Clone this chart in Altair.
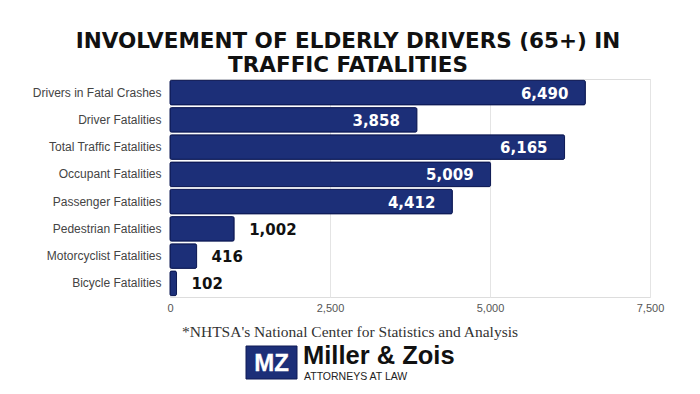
import altair as alt
import pandas as pd

categories = [
    "Drivers in Fatal Crashes",
    "Driver Fatalities",
    "Total Traffic Fatalities",
    "Occupant Fatalities",
    "Passenger Fatalities",
    "Pedestrian Fatalities",
    "Motorcyclist Fatalities",
    "Bicycle Fatalities",
]
values = [6490, 3858, 6165, 5009, 4412, 1002, 416, 102]
x_ticks = [0, 2500, 5000, 7500]
title_lines = ["INVOLVEMENT OF ELDERLY DRIVERS (65+) IN", "TRAFFIC FATALITIES"]
footnote = "*NHTSA's National Center for Statistics and Analysis"

df = pd.DataFrame({"category": categories, "value": values})
df["label"] = df["value"].map(lambda v: f"{v:,}")

NAVY = "#1c2f78"

y_enc = alt.Y(
    "category:N",
    sort=categories,
    title=None,
    scale=alt.Scale(paddingInner=0.1, paddingOuter=0.05),
    axis=alt.Axis(
        labelFont="Liberation Sans",
        labelFontSize=12,
        labelColor="#444444",
        labelPadding=9,
        ticks=False,
        domain=False,
        grid=False,
        labelLimit=200,
    ),
)
x_enc = alt.X(
    "value:Q",
    title=None,
    scale=alt.Scale(domain=[0, 7500], nice=False),
    axis=alt.Axis(
        values=x_ticks,
        format=",.0f",
        labelFlush=False,
        labelFont="Liberation Sans",
        labelFontSize=11,
        labelColor="#555555",
        labelPadding=5,
        ticks=False,
        domain=False,
        gridColor="#e4e4e4",
        gridWidth=1,
    ),
)

base = alt.Chart(df)

bars = base.mark_bar(
    color=NAVY, stroke="#0e1a55", strokeWidth=1, cornerRadius=1.5
).encode(x=x_enc, y=y_enc)

inside = base.transform_filter("datum.value >= 2000").mark_text(
    align="right", baseline="middle", dx=-17, dy=1, color="white",
    font="DejaVu Sans", fontWeight="bold", fontSize=15,
).encode(x="value:Q", y=alt.Y("category:N", sort=categories), text="label:N")

outside = base.transform_filter("datum.value < 2000").mark_text(
    align="left", baseline="middle", dx=15, dy=1, color="#111111",
    font="DejaVu Sans", fontWeight="bold", fontSize=15,
).encode(x="value:Q", y=alt.Y("category:N", sort=categories), text="label:N")

one = pd.DataFrame({"t": [footnote]})

foot = alt.Chart(one).mark_text(
    align="center", baseline="middle", font="Liberation Serif", fontSize=15.5,
    color="#333333",
).encode(x=alt.value(180), y=alt.value(253), text="t:N")

logo_box = alt.Chart(one).mark_rect(color=NAVY, stroke="#0e1a55").encode(
    x=alt.value(76), x2=alt.value(127), y=alt.value(267), y2=alt.value(300)
)
logo_mz = alt.Chart(pd.DataFrame({"t": ["MZ"]})).mark_text(
    align="center", baseline="middle", font="Liberation Sans", fontWeight="bold",
    fontSize=24, color="white", stroke="#ffffff", strokeWidth=0.3,
).encode(x=alt.value(101.5), y=alt.value(285), text="t:N")
logo_name = alt.Chart(pd.DataFrame({"t": ["Miller & Zois"]})).mark_text(
    align="left", baseline="alphabetic", font="Liberation Sans", fontWeight="bold",
    fontSize=25.5, color="#111111",
).encode(x=alt.value(133), y=alt.value(284.5), text="t:N")
logo_sub = alt.Chart(pd.DataFrame({"t": ["ATTORNEYS AT LAW"]})).mark_text(
    align="left", baseline="alphabetic", font="Liberation Sans",
    fontSize=10.5, color="#222222",
).encode(x=alt.value(134), y=alt.value(300.5), text="t:N")

chart = alt.layer(
    bars, inside, outside, foot, logo_box, logo_mz, logo_name, logo_sub
).properties(
    width=480,
    height=218,
    title=alt.TitleParams(
        text=title_lines,
        anchor="middle",
        frame="bounds",
        font="DejaVu Sans",
        fontWeight="bold",
        fontSize=21.5,
        lineHeight=24,
        color="#111111",
        offset=3,
    ),
    autosize=alt.AutoSizeParams(type="none"),
    padding={"left": 162, "top": 71, "right": 30, "bottom": 85},
).configure_view(stroke=None).configure(background="white")

chart.save("out.html", embed_options={"renderer": "svg", "actions": False})
